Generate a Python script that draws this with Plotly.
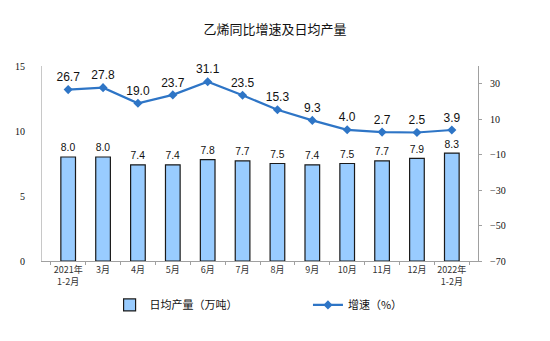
import plotly.graph_objects as go

categories = ["2021年<br>1-2月", "3月", "4月", "5月", "6月", "7月", "8月", "9月", "10月", "11月", "12月", "2022年<br>1-2月"]
daily_output = [8.0, 8.0, 7.4, 7.4, 7.8, 7.7, 7.5, 7.4, 7.5, 7.7, 7.9, 8.3]
growth = [26.7, 27.8, 19.0, 23.7, 31.1, 23.5, 15.3, 9.3, 4.0, 2.7, 2.5, 3.9]
left_ticks = [0, 5, 10, 15]
right_ticks = [-70, -50, -30, -10, 10, 30]

fig = go.Figure()
fig.add_trace(go.Bar(
    x=categories, y=daily_output, name="日均产量（万吨）",
    marker=dict(color="#99CCFF", line=dict(color="#1a1a1a", width=1.2)),
    width=0.42,
    text=[f"{v:.1f}" for v in daily_output], textposition="outside",
    textfont=dict(family="Liberation Sans, Arial", size=12, color="#111"),
    cliponaxis=False, legend="legend",
))
fig.add_trace(go.Scatter(
    x=categories, y=growth, name="增速（%）", yaxis="y2",
    mode="lines+markers+text",
    line=dict(color="#2E75C6", width=2.2),
    marker=dict(symbol="diamond", size=7, color="#2E75C6"),
    text=[f"{v:.1f}" for v in growth], textposition="top center",
    textfont=dict(family="Liberation Sans, Arial", size=12, color="#111"),
    cliponaxis=False, legend="legend2",
))

fig.update_layout(
    width=550, height=341,
    margin=dict(l=42, r=72, t=66, b=80),
    paper_bgcolor="white", plot_bgcolor="white",
    title=dict(text="乙烯同比增速及日均产量", x=0.5, xanchor="center", y=0.915, yanchor="middle",
               font=dict(family="Noto Sans CJK SC", size=13, color="#111")),
    showlegend=True,
    bargap=0.5,
    xaxis=dict(
        showline=True, linecolor="#a0a0a0", linewidth=1,
        ticks="outside", tickson="boundaries", ticklen=3, tickcolor="#a0a0a0",
        tickangle=0,
        tickfont=dict(family="Noto Sans CJK SC", size=9, color="#333"),
        showgrid=False, fixedrange=True,
    ),
    yaxis=dict(
        range=[0, 15], tickvals=left_ticks, showgrid=False,
        showline=True, linecolor="#c8c8c8", linewidth=1,
        ticks="", tickfont=dict(family="Liberation Serif, Times New Roman", size=10, color="#111"),
        zeroline=False, ticklabelstandoff=14,
    ),
    yaxis2=dict(
        range=[-70, 40], tickvals=right_ticks, overlaying="y", side="right",
        showgrid=False, showline=True, linecolor="#a0a0a0", linewidth=1,
        ticks="outside", ticklen=3, tickcolor="#a0a0a0",
        tickfont=dict(family="Liberation Serif, Times New Roman", size=10, color="#111"),
        zeroline=False, ticklabelstandoff=6,
    ),
    legend=dict(orientation="h", x=0.155, y=-0.225, xanchor="left", yanchor="middle",
                font=dict(family="Noto Sans CJK SC", size=11, color="#111"),
                bgcolor="rgba(0,0,0,0)"),
    legend2=dict(orientation="h", x=0.61, y=-0.225, xanchor="left", yanchor="middle",
                 font=dict(family="Noto Sans CJK SC", size=11, color="#111"),
                 bgcolor="rgba(0,0,0,0)"),
)

fig.write_html("out.html")
